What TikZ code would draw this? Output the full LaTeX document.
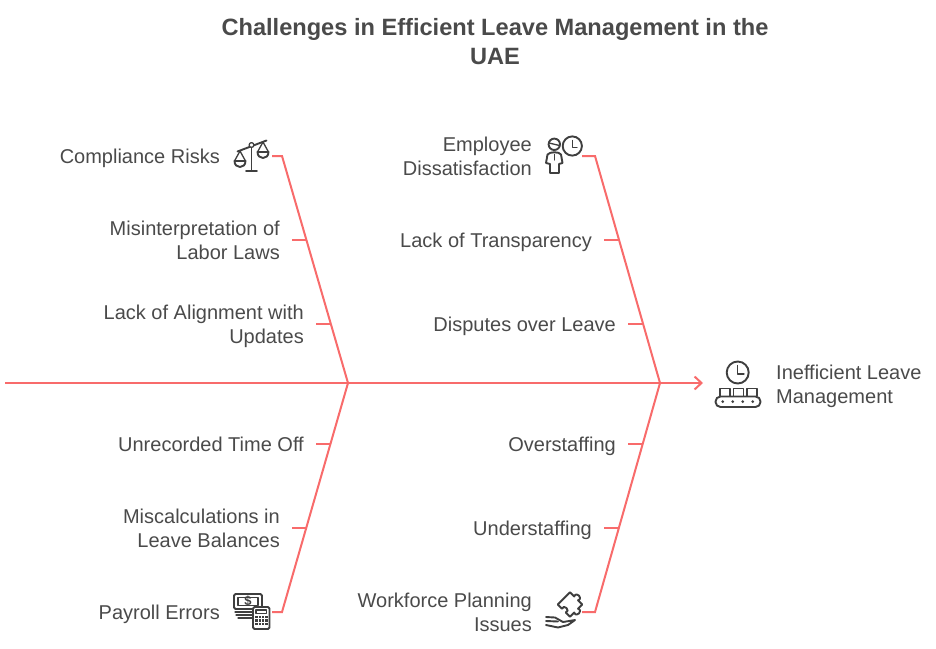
\documentclass[tikz,border=0pt]{standalone}
\usepackage{fontspec}
\setmainfont{Liberation Sans}
\usetikzlibrary{arrows.meta}
\definecolor{ink}{HTML}{4A4A4A}
\definecolor{bone}{HTML}{F86B6B}
\definecolor{ico}{HTML}{3F3F3F}
\newcommand{\st}{\rule[-5pt]{0pt}{24pt}}
\tikzset{
  lbl/.style={text=ink,font=\fontsize{20}{24}\selectfont,inner sep=0pt,align=right,anchor=east},
  lblL/.style={text=ink,font=\fontsize{20}{24}\selectfont,inner sep=0pt,align=left,anchor=west},
  ttl/.style={text=ink,font=\fontsize{23.6}{29}\selectfont\bfseries,inner sep=0pt,align=center},
  boneline/.style={draw=bone,line width=2pt},
  icon/.style={draw=ico,line width=1.9pt,line cap=round,line join=round,fill=none},
  iconthin/.style={draw=ico,line width=1.3pt,line cap=round,line join=round,fill=none}
}
\begin{document}
\begin{tikzpicture}[x=1pt,y=-1pt]
\useasboundingbox (0,0) rectangle (936,648);
\node[ttl] (title) at (495,41.5) {Challenges in Efficient Leave Management in the\\UAE};
% coordinates
\coordinate (tail) at (5,383);
\coordinate (j1) at (348,383);
\coordinate (j2) at (660,383);
\coordinate (head) at (703,383);
\coordinate (a1) at (272,156); \coordinate (a2) at (282,156);
\coordinate (b1) at (272,612); \coordinate (b2) at (282,612);
\coordinate (c1) at (582,156); \coordinate (c2) at (595,156);
\coordinate (d1) at (582,612); \coordinate (d2) at (595,612);
% labels
\node[lbl] (n1) at (220,156) {\st Compliance Risks};
\node[lbl] (n2) at (280,240) {\st Misinterpretation of\\\st Labor Laws};
\node[lbl] (n3) at (304,324) {\st Lack of Alignment with\\\st Updates};
\node[lbl] (n4) at (304,444) {\st Unrecorded Time Off};
\node[lbl] (n5) at (280,528) {\st Miscalculations in\\\st Leave Balances};
\node[lbl] (n6) at (220,612) {\st Payroll Errors};
\node[lbl] (m1) at (532,156) {\st Employee\\\st Dissatisfaction};
\node[lbl] (m2) at (592,240) {\st Lack of Transparency};
\node[lbl] (m3) at (616,324) {\st Disputes over Leave};
\node[lbl] (m4) at (616,444) {\st Overstaffing};
\node[lbl] (m5) at (592,528) {\st Understaffing};
\node[lbl] (m6) at (532,612) {\st Workforce Planning\\\st Issues};
\node[lblL] (effect) at (776,384) {\st Inefficient Leave\\\st Management};
% bones
\draw[boneline,-{Straight Barb[length=7pt,width=13pt]}] (tail) -- (head);
\draw[boneline] (a1) -- (a2) -- (j1) -- (b2) -- (b1);
\draw[boneline] (c1) -- (c2) -- (j2) -- (d2) -- (d1);
% ribs
\draw[boneline] ([xshift=12pt]n2.east) -- ++(15,0);
\draw[boneline] ([xshift=12pt]n3.east) -- ++(15,0);
\draw[boneline] ([xshift=12pt]n4.east) -- ++(15,0);
\draw[boneline] ([xshift=12pt]n5.east) -- ++(15,0);
\draw[boneline] ([xshift=12pt]m2.east) -- ++(15,0);
\draw[boneline] ([xshift=12pt]m3.east) -- ++(15,0);
\draw[boneline] ([xshift=12pt]m4.east) -- ++(15,0);
\draw[boneline] ([xshift=12pt]m5.east) -- ++(15,0);
% scales icon
\begin{scope}[shift={(225,130)}]
\draw[icon] (26.5,15) -- (26.5,41);
\draw[icon] (21,41) -- (32,41);
\draw[icon] (12.5,21.5) -- (41.5,10.5);
\draw[iconthin,fill=white] (26.5,15) circle (2.4);
\draw[iconthin] (15,21) -- (9.5,31) (15,21) -- (20.5,31);
\draw[iconthin] (38,12) -- (32.5,22) (38,12) -- (43.5,22);
\draw[icon] (9.5,31) .. controls (9.5,39) and (20.5,39) .. (20.5,31) -- cycle;
\draw[icon] (32.5,22) .. controls (32.5,30) and (43.5,30) .. (43.5,22) -- cycle;
\end{scope}
% person + clock icon
\begin{scope}[shift={(535,130)}]
\draw[icon] (19.3,14.3) circle (5.7);
\draw[iconthin] (14,13) -- (24.5,15.5);
\draw[icon] (12.5,24.5) .. controls (15,21.5) and (24,21.5) .. (26,24.5) -- (27.5,33) -- (24,34) -- (24,43) -- (15,43) -- (15,34) -- (11,33) -- cycle;
\draw[iconthin] (19.3,24.5) -- (19.3,30);
\draw[icon] (37.3,16) circle (9.6);
\draw[iconthin] (37.3,10.5) -- (37.3,17.5) -- (42,17.5);
\end{scope}
% money + calculator icon
\begin{scope}[shift={(225,585)}]
\draw[icon,rounded corners=1.5] (9,9) rectangle (37,24);
\draw[iconthin] (13,12.5) -- (33,12.5) -- (33,20.5) -- (13,20.5) -- cycle;
\node[inner sep=0pt,text=ico,font=\fontsize{13}{13}\selectfont\bfseries] (dollar) at (23,16.5) {\$};
\draw[iconthin] (10,27) -- (27,27) (11,30) -- (27,30) (13,33) -- (27,33);
\draw[icon,fill=white,rounded corners=1.5] (28,22) rectangle (44.5,44);
\draw[iconthin] (31,25) rectangle (41.5,28.5);
\foreach \yy in {32,35.5,39}{\foreach \xx in {31.5,34.8,38.1,41.4}{\fill[ico] (\xx-1.1,\yy-1.2) rectangle (\xx+1.1,\yy+1.2);}}
\end{scope}
% puzzle + hand icon
\begin{scope}[shift={(535,585)}]
\begin{scope}[shift={(35,19.5)},rotate=-45,scale=1.08]
\draw[icon] (-8,-8) -- (-2.5,-8) .. controls (-5,-13) and (5,-13) .. (2.5,-8) -- (8,-8) -- (8,-2.5) .. controls (13,-5) and (13,5) .. (8,2.5) -- (8,8) -- (2.5,8) .. controls (5,3.5) and (-5,3.5) .. (-2.5,8) -- (-8,8) -- cycle;
\end{scope}
\draw[icon] (11,32) -- (20,32.5) -- (28,37) -- (40,35) -- (33,40) -- (23,42.5) -- (11,40);
\draw[icon] (11,36) -- (23,36.5);
\end{scope}
% clock + conveyor icon
\begin{scope}[shift={(685,350)}]
\draw[icon] (52.7,22.5) circle (11);
\draw[iconthin] (52.7,15.5) -- (52.7,24) -- (59,24);
\draw[icon] (35,46) -- (35,38.5) -- (45,38.5) -- (45,46);
\draw[icon] (48.5,46) -- (48.5,38.5) -- (58.5,38.5) -- (58.5,46);
\draw[icon] (62,46) -- (62,38.5) -- (72,38.5) -- (72,46);
\draw[icon,rounded corners=5] (30.5,46.5) rectangle (75.5,57);
\foreach \xx in {37.7,47.7,57.7,67.7}{\fill[ico] (\xx,51.7) circle (1.5);}
\end{scope}
\end{tikzpicture}
\end{document}
